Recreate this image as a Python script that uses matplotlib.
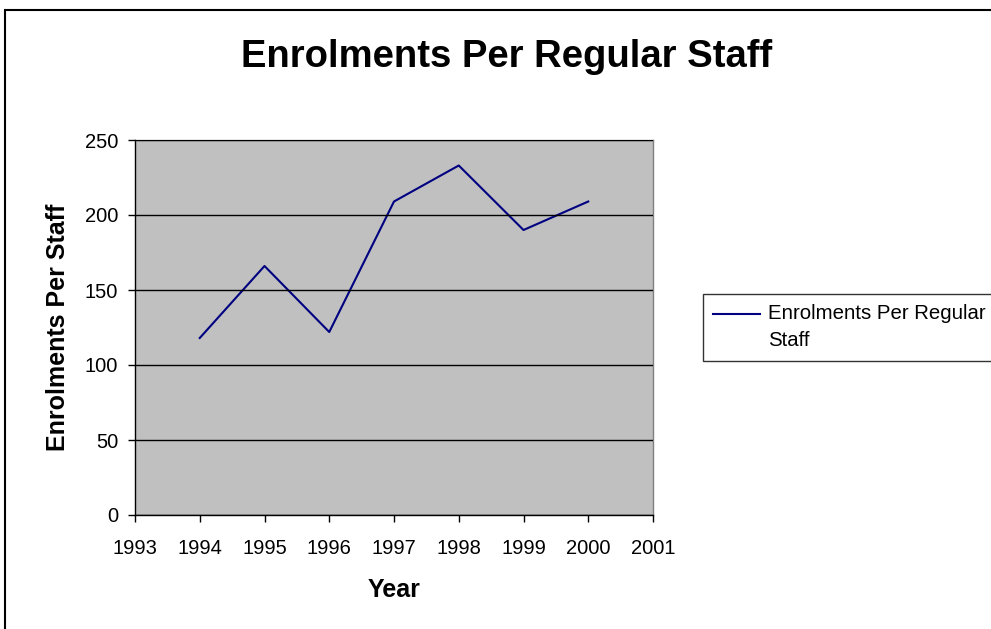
import matplotlib
matplotlib.use("Agg")
import matplotlib.pyplot as plt
from matplotlib.patches import Rectangle
from matplotlib.legend_handler import HandlerLine2D

plt.rcParams['font.family'] = ['Liberation Sans', 'DejaVu Sans']

# data
years = [1994, 1995, 1996, 1997, 1998, 1999, 2000]
enrolments_per_staff = [118, 166, 122, 209, 233, 190, 209]
xticks = list(range(1993, 2002))
yticks = [0, 50, 100, 150, 200, 250]


# legend line sits level with the first line of the label, like Excel does
class TopLine(HandlerLine2D):
    def create_artists(self, legend, orig_handle, xdescent, ydescent,
                       width, height, fontsize, trans):
        arts = super().create_artists(legend, orig_handle, xdescent, ydescent,
                                      width, height, fontsize, trans)
        for a in arts:
            a.set_ydata([y + 0.68 * fontsize for y in a.get_ydata()])
        return arts


W, H = 991, 629
fig = plt.figure(figsize=(W / 100, H / 100), dpi=100)

# outer chart border
fig.patches.append(Rectangle((5 / W, -0.05), 1.1, 1 - 10 / H + 0.05,
                             transform=fig.transFigure, fill=False,
                             edgecolor='black', linewidth=1.5))

ax = fig.add_axes([135 / W, 1 - 515 / H, (653 - 135) / W, (515 - 140) / H])
ax.set_facecolor('#C0C0C0')
line, = ax.plot(years, enrolments_per_staff, color='#000080', linewidth=1.5,
                label='Enrolments Per Regular\nStaff')

ax.set_xlim(1993, 2001)
ax.set_ylim(0, 250)
ax.set_xticks(xticks)
ax.set_yticks(yticks)
ax.tick_params(labelsize=14.5, length=5, width=1, direction='out', color='black')
ax.tick_params(axis='x', pad=12.5)
ax.tick_params(axis='y', pad=7)
ax.yaxis.grid(True, color='black', linewidth=1)
ax.set_axisbelow(False)

for s in ['top', 'right']:
    ax.spines[s].set_color('#808080')
    ax.spines[s].set_linewidth(1)
for s in ['left', 'bottom']:
    ax.spines[s].set_color('black')
    ax.spines[s].set_linewidth(1)

ax.set_xlabel('Year', fontsize=18, fontweight='bold', labelpad=14.5)
ax.set_ylabel('Enrolments Per Staff', fontsize=18, fontweight='bold', labelpad=10.5)

fig.text(507 / W, 1 - 67 / H, 'Enrolments Per Regular Staff', fontsize=27.5,
         fontweight='bold', ha='center', va='baseline')

leg = ax.legend(loc='upper left', bbox_to_anchor=(703 / W, 1 - 294 / H),
                bbox_transform=fig.transFigure, fontsize=14.7, frameon=True,
                fancybox=False, edgecolor='black', handlelength=2.3,
                borderpad=0.5, handletextpad=0.4, borderaxespad=0,
                handler_map={line: TopLine()})
leg.get_frame().set_linewidth(1)
for t in leg.get_texts():
    t.set_linespacing(1.55)

fig.savefig('out.png', dpi=100)
